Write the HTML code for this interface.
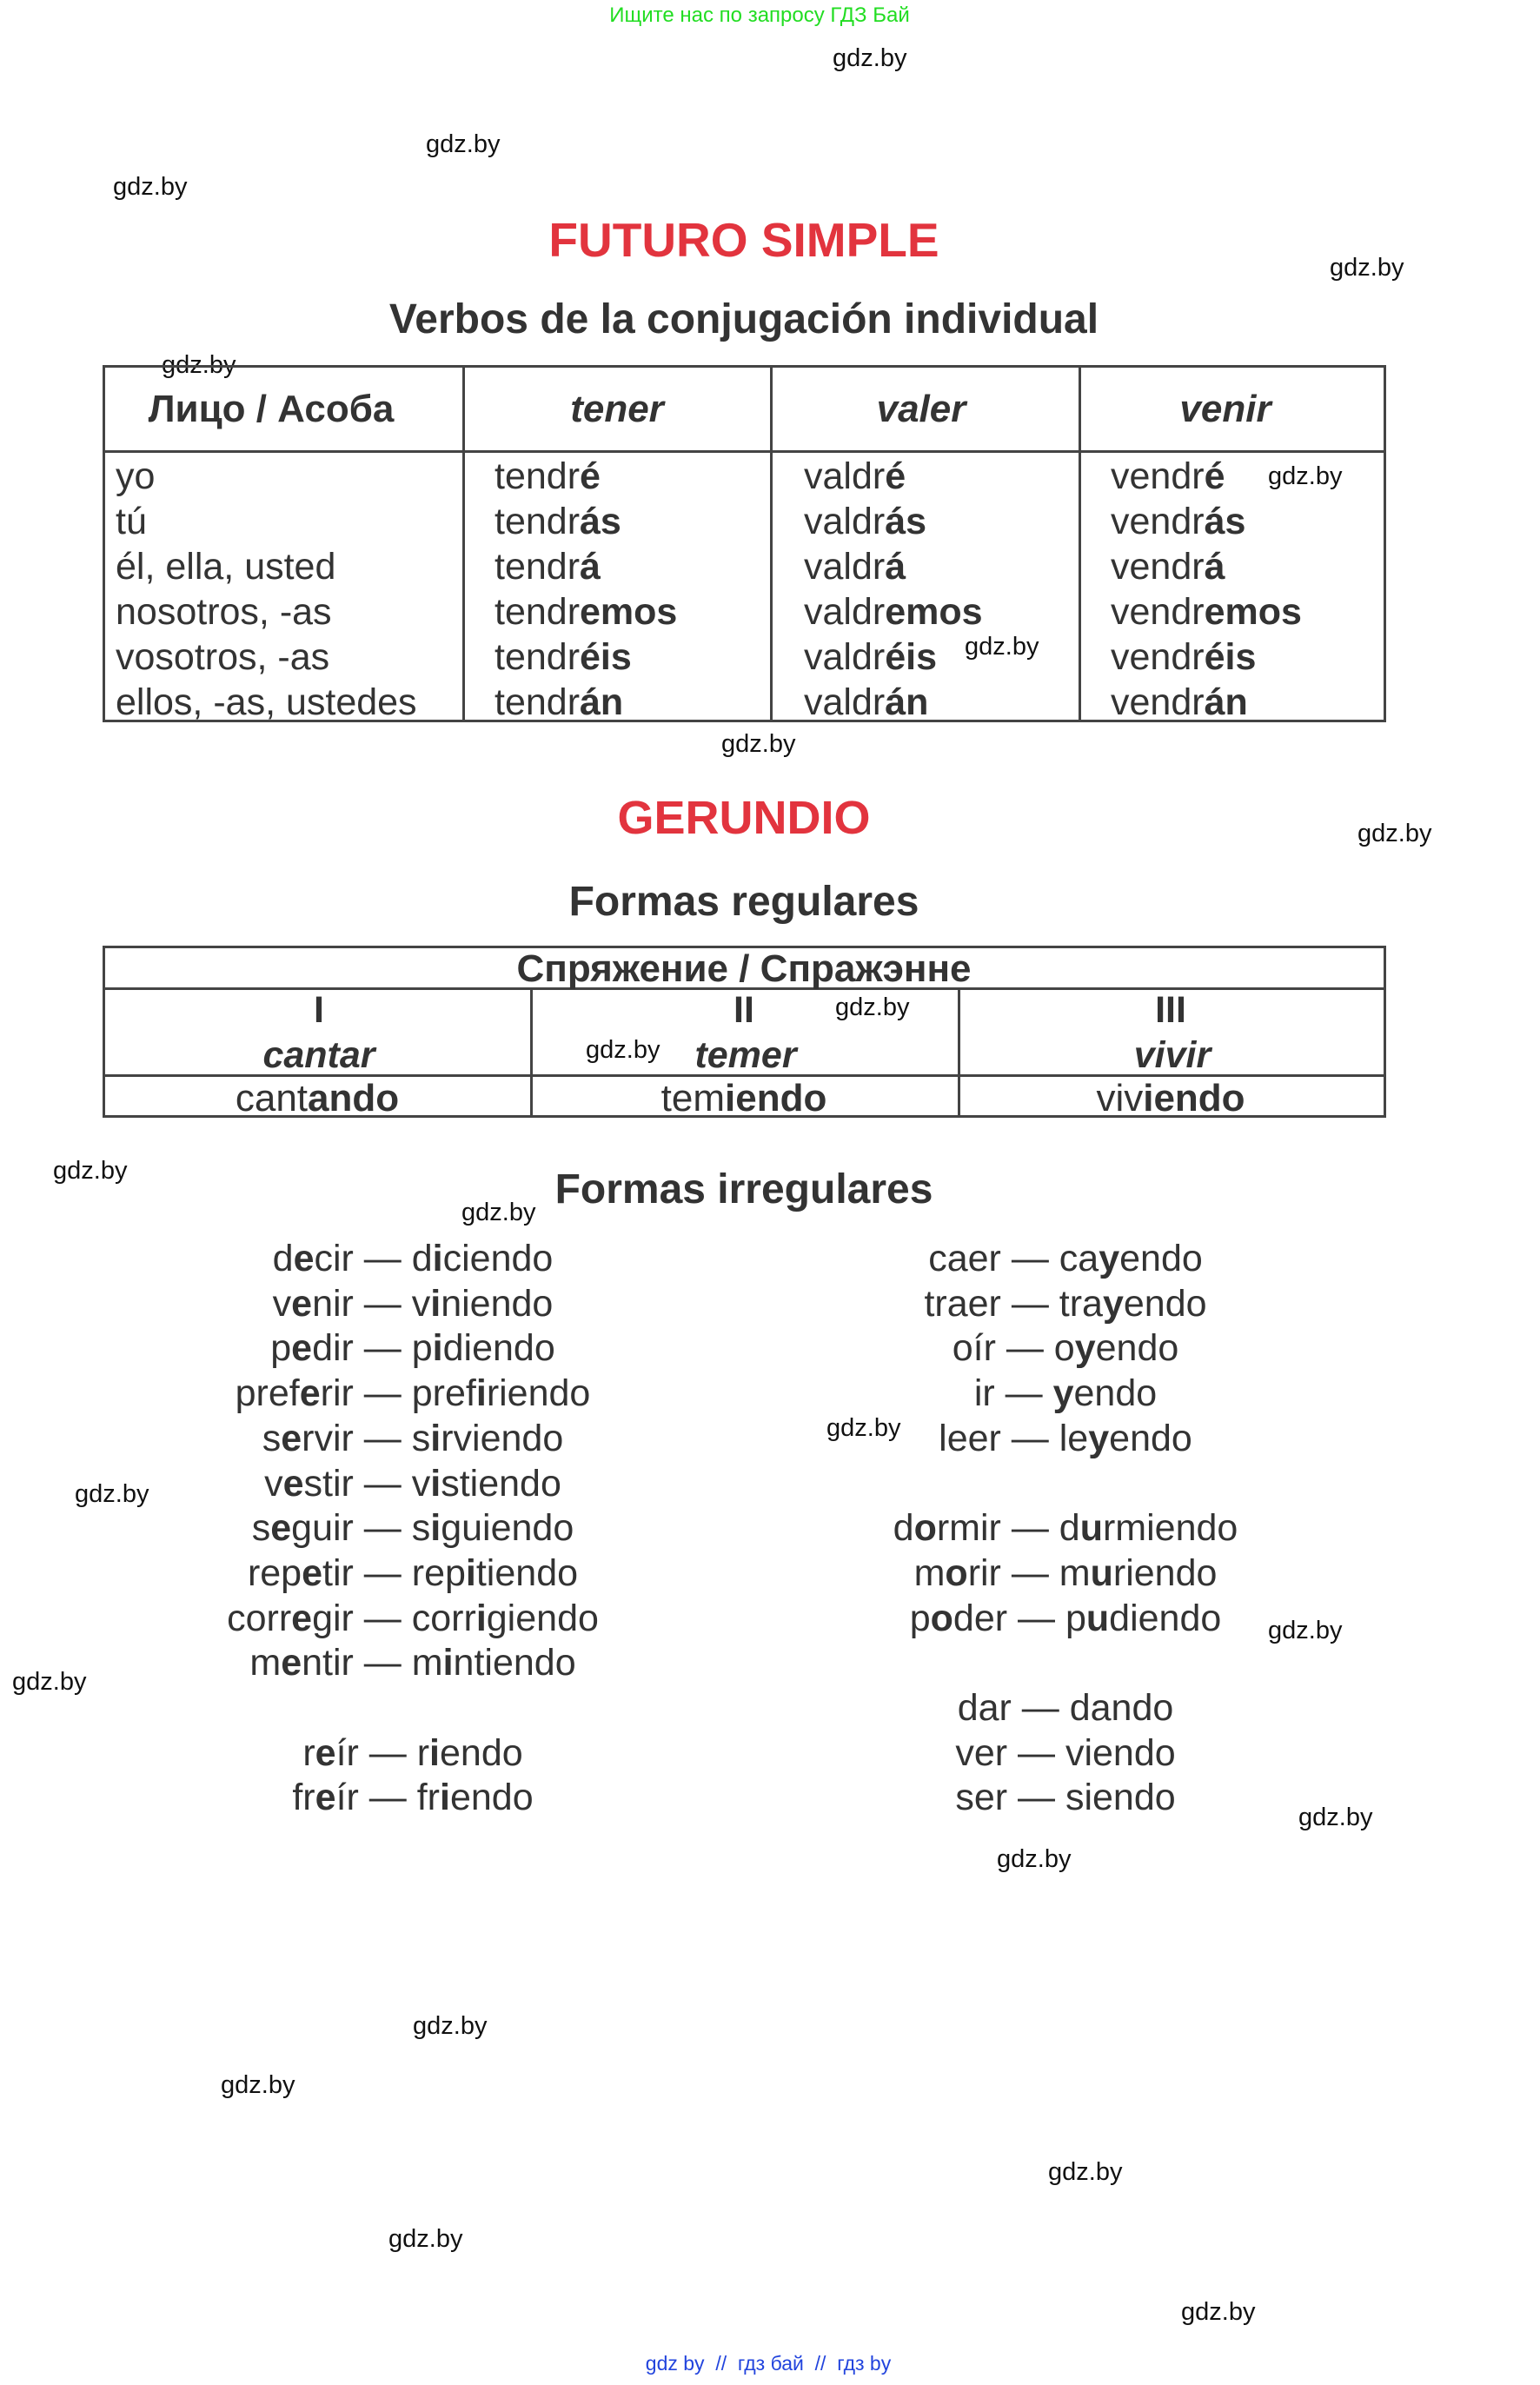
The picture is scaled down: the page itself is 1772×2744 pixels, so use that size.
<!DOCTYPE html>
<html><head><meta charset="utf-8"><style>
*{margin:0;padding:0;box-sizing:border-box}
body{width:1772px;height:2744px;background:#fff;position:relative;overflow:hidden;font-family:"Liberation Sans",Arial,sans-serif;color:#333}
.a{position:absolute;white-space:nowrap}
.c{transform:translateX(-50%)}
.w{font-size:29px;color:#111;line-height:34px}
.h{font-weight:bold;text-align:center;left:0;width:1712px}
.tb{position:absolute;border:3px solid #444}
.vl{position:absolute;background:#444;width:3px}
.hl{position:absolute;background:#444;height:3px}
.cell{font-size:43px;line-height:52px}
b{font-weight:bold}
.lst{position:absolute;font-size:43px;line-height:51.7px;text-align:center;width:700px}
</style></head><body>
<div class="a c" style="left:874px;top:4px;font-size:24px;color:#22dd22">Ищите нас по запросу ГДЗ Бай</div>

<div class="a w" style="left:958px;top:50px">gdz.by</div>
<div class="a w" style="left:490px;top:149px">gdz.by</div>
<div class="a w" style="left:130px;top:198px">gdz.by</div>
<div class="a w" style="left:1530px;top:291px">gdz.by</div>
<div class="a w" style="left:186px;top:403px">gdz.by</div>
<div class="a w" style="left:1459px;top:531px">gdz.by</div>
<div class="a w" style="left:1110px;top:727px">gdz.by</div>
<div class="a w" style="left:830px;top:839px">gdz.by</div>
<div class="a w" style="left:1562px;top:942px">gdz.by</div>
<div class="a w" style="left:961px;top:1142px">gdz.by</div>
<div class="a w" style="left:674px;top:1191px">gdz.by</div>
<div class="a w" style="left:61px;top:1330px">gdz.by</div>
<div class="a w" style="left:531px;top:1378px">gdz.by</div>
<div class="a w" style="left:951px;top:1626px">gdz.by</div>
<div class="a w" style="left:86px;top:1702px">gdz.by</div>
<div class="a w" style="left:1459px;top:1859px">gdz.by</div>
<div class="a w" style="left:14px;top:1918px">gdz.by</div>
<div class="a w" style="left:1494px;top:2074px">gdz.by</div>
<div class="a w" style="left:1147px;top:2122px">gdz.by</div>
<div class="a w" style="left:475px;top:2314px">gdz.by</div>
<div class="a w" style="left:254px;top:2382px">gdz.by</div>
<div class="a w" style="left:1206px;top:2482px">gdz.by</div>
<div class="a w" style="left:447px;top:2559px">gdz.by</div>
<div class="a w" style="left:1359px;top:2643px">gdz.by</div>

<div class="a h" style="top:244px;font-size:55px;color:#e2343e">FUTURO SIMPLE</div>
<div class="a h" style="top:340px;font-size:48px;color:#333">Verbos de la conjugación individual</div>

<div class="tb" style="left:118px;top:420px;width:1477px;height:411px"></div>
<div class="hl" style="left:118px;top:518px;width:1477px"></div>
<div class="vl" style="left:532px;top:420px;height:411px"></div>
<div class="vl" style="left:886px;top:420px;height:411px"></div>
<div class="vl" style="left:1241px;top:420px;height:411px"></div>
<div class="a c" style="left:312px;top:446px;font-size:44px;font-weight:bold">Лицо / Асоба</div>
<div class="a c" style="left:710px;top:446px;font-size:44px;font-weight:bold;font-style:italic">tener</div>
<div class="a c" style="left:1060px;top:446px;font-size:44px;font-weight:bold;font-style:italic">valer</div>
<div class="a c" style="left:1410px;top:446px;font-size:44px;font-weight:bold;font-style:italic">venir</div>

<div class="a cell" style="left:133px;top:522px">yo<br>tú<br>él, ella, usted<br>nosotros, -as<br>vosotros, -as<br>ellos, -as, ustedes</div>
<div class="a cell" style="left:569px;top:522px">tendr<b>é</b><br>tendr<b>ás</b><br>tendr<b>á</b><br>tendr<b>emos</b><br>tendr<b>éis</b><br>tendr<b>án</b></div>
<div class="a cell" style="left:925px;top:522px">valdr<b>é</b><br>valdr<b>ás</b><br>valdr<b>á</b><br>valdr<b>emos</b><br>valdr<b>éis</b><br>valdr<b>án</b></div>
<div class="a cell" style="left:1278px;top:522px">vendr<b>é</b><br>vendr<b>ás</b><br>vendr<b>á</b><br>vendr<b>emos</b><br>vendr<b>éis</b><br>vendr<b>án</b></div>

<div class="a h" style="top:910px;font-size:54px;color:#e2343e">GERUNDIO</div>
<div class="a h" style="top:1010px;font-size:48px;color:#333">Formas regulares</div>

<div class="tb" style="left:118px;top:1088px;width:1477px;height:198px"></div>
<div class="hl" style="left:118px;top:1136px;width:1477px"></div>
<div class="hl" style="left:118px;top:1236px;width:1477px"></div>
<div class="vl" style="left:610px;top:1136px;height:150px"></div>
<div class="vl" style="left:1102px;top:1136px;height:150px"></div>
<div class="a c" style="left:856px;top:1090px;font-size:44px;font-weight:bold">Спряжение / Спражэнне</div>
<div class="a c" style="left:367px;top:1138px;font-size:43px;font-weight:bold">I</div>
<div class="a c" style="left:856px;top:1138px;font-size:43px;font-weight:bold">II</div>
<div class="a c" style="left:1347px;top:1138px;font-size:43px;font-weight:bold">III</div>
<div class="a c" style="left:367px;top:1190px;font-size:43px;font-weight:bold;font-style:italic">cantar</div>
<div class="a c" style="left:858px;top:1190px;font-size:43px;font-weight:bold;font-style:italic">temer</div>
<div class="a c" style="left:1349px;top:1190px;font-size:43px;font-weight:bold;font-style:italic">vivir</div>
<div class="a c" style="left:365px;top:1239px;font-size:44px">cant<b>ando</b></div>
<div class="a c" style="left:856px;top:1239px;font-size:44px">tem<b>iendo</b></div>
<div class="a c" style="left:1347px;top:1239px;font-size:44px">viv<b>iendo</b></div>

<div class="a h" style="top:1341px;font-size:48px;color:#333">Formas irregulares</div>

<div class="lst" style="left:125px;top:1423px">
d<b>e</b>cir — d<b>i</b>ciendo<br>v<b>e</b>nir — v<b>i</b>niendo<br>p<b>e</b>dir — p<b>i</b>diendo<br>pref<b>e</b>rir — pref<b>i</b>riendo<br>s<b>e</b>rvir — s<b>i</b>rviendo<br>v<b>e</b>stir — v<b>i</b>stiendo<br>s<b>e</b>guir — s<b>i</b>guiendo<br>rep<b>e</b>tir — rep<b>i</b>tiendo<br>corr<b>e</b>gir — corr<b>i</b>giendo<br>m<b>e</b>ntir — m<b>i</b>ntiendo<br>&nbsp;<br>r<b>e</b>ír — r<b>i</b>endo<br>fr<b>e</b>ír — fr<b>i</b>endo</div>
<div class="lst" style="left:876px;top:1423px">
caer — ca<b>y</b>endo<br>traer — tra<b>y</b>endo<br>oír — o<b>y</b>endo<br>ir — <b>y</b>endo<br>leer — le<b>y</b>endo<br>&nbsp;<br>d<b>o</b>rmir — d<b>u</b>rmiendo<br>m<b>o</b>rir — m<b>u</b>riendo<br>p<b>o</b>der — p<b>u</b>diendo<br>&nbsp;<br>dar — dando<br>ver — viendo<br>ser — siendo</div>

<div class="a c" style="left:884px;top:2706px;font-size:23px;color:#2244dd">gdz by &nbsp;// &nbsp;гдз бай &nbsp;// &nbsp;гдз by</div>
</body></html>
